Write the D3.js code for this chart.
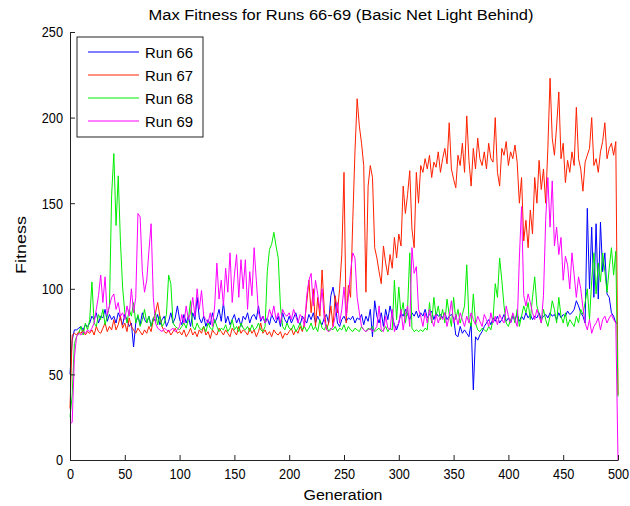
<!DOCTYPE html>
<html><head><meta charset="utf-8">
<script src="https://cdn.jsdelivr.net/npm/d3@7/dist/d3.min.js"></script>
<style>
html,body{margin:0;padding:0;background:#fff;}
svg{display:block;font-family:"Liberation Sans",Arial,sans-serif;}
</style></head>
<body><svg id="chart" width="630" height="506"></svg>
<script>
const title = "Max Fitness for Runs 66-69 (Basic Net Light Behind)";
const xLabel = "Generation";
const yLabel = "Fitness";
const seriesNames = ["Run 66", "Run 67", "Run 68", "Run 69"];
const seriesColors = ["#0000ff", "#ff2000", "#00ee00", "#ff00ff"];
const xTicks = [0, 50, 100, 150, 200, 250, 300, 350, 400, 450, 500];
const yTicks = [0, 50, 100, 150, 200, 250];
// values sampled every 2 generations (0..500)
const generations = d3.range(0, 501, 2);

const run66 = [
50,70,76,76,77,78,76,79,78,80,
84,82,86,80,84,83,88,81,85,82,
84,80,86,83,79,85,82,78,80,66,
80,84,79,86,82,80,84,78,83,81,
85,79,82,84,78,81,86,80,83,90,
82,79,85,80,84,78,86,82,95,83,
80,84,78,82,79,86,80,83,88,81,
92,80,84,79,82,85,80,83,78,84,
82,86,80,84,85,82,90,81,84,80,
83,79,85,82,80,84,78,86,82,80,
84,80,83,86,81,79,84,82,80,85,
82,86,80,84,81,79,83,85,80,96,
101,93,80,78,82,84,81,83,82,84,
80,83,82,85,79,84,81,88,72,93,
84,80,86,78,88,82,90,84,79,76,
80,86,84,88,85,82,86,84,87,83,
86,84,88,83,85,87,82,86,84,85,
83,86,82,84,85,83,73,72,78,74,
76,74,72,80,41,72,70,73,75,78,
80,82,79,83,81,84,80,82,85,81,
83,80,84,82,85,81,84,82,86,83,
85,82,84,83,86,82,84,85,83,86,
84,85,82,86,83,85,84,87,85,86,
88,93,90,86,84,80,147,100,136,95,
138,94,139,110,121,97,95,86,84,80,
80];

const run67 = [
30,73,74,73,75,74,76,73,75,74,
76,73,78,75,74,77,80,75,78,76,
82,76,79,84,77,80,75,83,78,76,
74,77,75,73,76,74,78,75,82,86,
92,84,78,75,74,76,73,75,77,74,
75,73,76,72,74,77,73,75,72,76,
74,78,73,75,71,76,74,73,77,75,
73,76,74,72,77,75,73,78,74,76,
75,73,77,74,76,72,75,80,74,76,
73,75,72,76,74,73,75,71,74,73,
75,77,73,76,74,78,75,80,92,105,
86,100,78,95,84,111,88,76,80,90,
78,96,86,100,120,168,80,102,95,140,
180,211,195,185,172,98,160,172,165,124,
118,110,103,125,115,108,120,112,130,118,
132,125,160,144,155,169,135,124,168,150,
172,168,176,170,178,165,174,171,180,168,
176,182,173,197,170,164,159,178,172,185,
168,201,175,160,182,170,188,176,172,180,
170,185,176,174,200,168,160,182,178,186,
172,180,176,184,174,150,165,128,140,124,
146,132,165,150,175,158,170,150,182,223,
188,178,195,215,176,185,162,175,168,180,
172,206,176,170,157,174,178,182,200,172,
176,168,180,186,197,176,182,185,178,186,
38];

const run68 = [
25,38,68,72,74,78,73,80,76,82,
104,80,78,85,82,88,79,84,90,155,
179,137,166,128,101,86,80,88,84,92,
80,85,78,82,88,80,84,78,82,86,
79,84,78,80,85,108,103,80,78,77,
76,78,80,77,82,93,78,76,80,77,
76,78,75,80,77,76,82,78,75,77,
76,79,75,77,82,76,78,75,80,77,
76,78,75,79,76,77,80,76,75,78,
110,123,126,133,125,118,90,78,76,80,
77,76,79,75,77,80,76,78,75,77,
80,76,78,75,82,77,76,79,75,77,
76,78,75,77,76,79,75,78,76,75,
77,76,75,78,76,75,77,76,78,75,
76,77,75,76,78,75,77,76,105,82,
101,85,92,80,88,121,77,75,76,75,
76,75,77,76,92,80,95,84,90,82,
88,80,94,85,78,95,82,88,80,85,
90,114,82,78,97,80,76,75,77,76,
75,78,76,82,103,95,118,105,90,80,
78,82,85,80,88,78,84,90,86,92,
82,95,107,90,85,80,88,82,78,84,
93,88,80,95,84,80,86,78,82,80,
78,84,80,88,85,92,100,82,105,121,
97,115,104,121,110,98,112,124,108,122,
37];

const run69 = [
21,22,60,72,74,73,75,74,76,75,
77,80,88,96,108,92,107,85,90,95,
97,88,92,84,86,82,90,84,100,86,
95,144,142,110,98,105,122,138,95,80,
77,76,75,77,76,75,76,77,75,76,
78,85,80,90,82,86,95,84,100,88,
99,84,82,80,86,78,90,115,94,105,
90,112,98,121,92,108,120,95,117,100,
117,88,110,96,124,105,86,82,84,80,
82,88,84,90,82,86,80,88,85,84,
86,82,88,84,80,85,83,78,96,105,
109,90,105,97,88,100,82,76,75,76,
78,84,92,80,88,101,84,95,110,121,
118,95,86,78,76,75,76,77,75,76,
78,90,76,75,84,77,76,88,75,78,
80,88,76,85,90,78,124,109,113,88,
84,78,86,80,88,82,78,85,80,84,
82,86,78,84,93,80,85,79,86,82,
78,84,80,86,82,79,84,81,78,85,
82,78,86,80,84,79,85,82,80,90,
84,80,86,82,78,118,148,96,90,97,
92,86,82,88,84,80,96,140,165,136,
163,125,136,120,130,105,119,114,100,121,
108,95,107,100,89,80,76,82,74,78,
80,83,76,82,84,80,83,85,82,80,
0];

const allSeries = [run66, run67, run68, run69];

const svg = d3.select("#chart");
const mLeft = 70, mRight = 618, mTop = 32, mBottom = 460;
const x = d3.scaleLinear().domain([0, 500]).range([mLeft, mRight]);
const y = d3.scaleLinear().domain([0, 250]).range([mBottom, mTop]);

// squeeze/stretch a text to a given width
function fitWidth(sel, factor, fixed) {
  sel.each(function () {
    const w = fixed != null ? fixed : this.getComputedTextLength() * factor;
    d3.select(this).attr("textLength", w).attr("lengthAdjust", "spacingAndGlyphs");
  });
}

// lines
const line = d3.line().x((d, i) => x(generations[i])).y(d => y(d));
allSeries.forEach((s, k) => {
  svg.append("path").datum(s)
    .attr("fill", "none")
    .attr("stroke", seriesColors[k])
    .attr("stroke-width", 1)
    .attr("d", line);
});

// axes
const xAxis = d3.axisBottom(x).tickValues(xTicks).tickSizeInner(-5).tickSizeOuter(0).tickPadding(8);
const yAxis = d3.axisLeft(y).tickValues(yTicks).tickSizeInner(-5).tickSizeOuter(0).tickPadding(7);
const gx = svg.append("g").attr("transform", `translate(0,${mBottom})`).call(xAxis);
const gy = svg.append("g").attr("transform", `translate(${mLeft},0)`).call(yAxis);
[gx, gy].forEach(g => {
  g.select(".domain").attr("stroke", "#222");
  g.selectAll(".tick line").attr("stroke", "#222");
  g.selectAll(".tick text").attr("fill", "#000").style("font-size", "15.5px")
    .style("font-family", '"Liberation Sans", Arial, sans-serif');
  fitWidth(g.selectAll(".tick text"), 0.82);
});

// title and labels
const tt = svg.append("text").attr("x", 341).attr("y", 20).attr("text-anchor", "middle")
  .style("font-size", "15.5px").attr("fill", "#000").text(title);
fitWidth(tt, 1, 385);
const xl = svg.append("text").attr("x", 343).attr("y", 500).attr("text-anchor", "middle")
  .style("font-size", "15.5px").attr("fill", "#000").text(xLabel);
fitWidth(xl, 1, 79);
const yl = svg.append("text").attr("transform", "translate(26,245) rotate(-90)").attr("text-anchor", "middle")
  .style("font-size", "15.5px").attr("fill", "#000").text(yLabel);
fitWidth(yl, 1, 58);

// legend
const lg = svg.append("g");
lg.append("rect").attr("x", 77).attr("y", 37).attr("width", 126).attr("height", 100)
  .attr("fill", "#fff").attr("stroke", "#222").attr("stroke-width", 1);
seriesNames.forEach((n, k) => {
  const cy = 52 + k * 23;
  lg.append("line").attr("x1", 88).attr("x2", 139).attr("y1", cy).attr("y2", cy)
    .attr("stroke", seriesColors[k]).attr("stroke-width", 1);
  const t = lg.append("text").attr("x", 145).attr("y", cy).attr("dy", "0.36em")
    .style("font-size", "15.5px").attr("fill", "#000").text(n);
  fitWidth(t, 1, 48);
});
</script></body></html>
